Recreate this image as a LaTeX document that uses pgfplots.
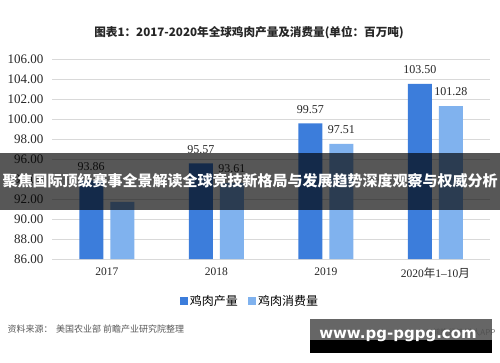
\documentclass[border=0pt]{standalone}
\usepackage{pgfplots}
\pgfplotsset{compat=1.18}
\usepackage{fontspec}
\setmainfont{Liberation Serif}
\newfontfamily\cjk{Noto Sans CJK SC}
\newfontfamily\dvs{DejaVu Sans}
\definecolor{prod}{RGB}{60,125,219}
\definecolor{cons}{RGB}{128,178,238}
\definecolor{gridc}{RGB}{217,217,217}
\begin{document}
\begin{tikzpicture}[x=1pt,y=1pt]
\fill[white] (0,0) rectangle (500,362);
\path[use as bounding box] (0,0) rectangle (500,362);
\node[font={\cjk\bfseries\fontsize{11.6}{13}\selectfont}, text=black!85] at (249,329) {图表1：2017-2020年全球鸡肉产量及消费量(单位：百万吨)};
\begin{axis}[
  at={(52pt,103pt)}, anchor=south west,
  scale only axis, width=438pt, height=200pt,
  ymin=86, ymax=106, ytick={86,88,...,106},
  xmin=-0.5, xmax=3.5,
  xtick=data, xticklabels={2017,2018,2019,{2020{\cjk 年}1–10{\cjk 月}}},
  axis line style={draw=none},
  tick style={draw=none},
  ymajorgrids, grid style={gridc, line width=0.8pt},
  major tick length=0pt,
  yticklabel style={font=\fontsize{13}{14}\selectfont, text=black!85, xshift=-5pt},
  xticklabel style={font=\fontsize{11.5}{13}\selectfont, text=black!85, yshift=-5pt},
  /pgf/number format/assume math mode=true,
  yticklabel={\pgfmathprintnumber[fixed,fixed zerofill,precision=2]{\tick}},
  ybar=7pt, bar width=24pt,
  nodes near coords,
  point meta=explicit symbolic,
  every node near coord/.append style={font=\fontsize{12}{13}\selectfont, text=black!85, yshift=6.5pt},
  legend style={at={(axis description cs:0.5,0)}, anchor=center, xshift=-21pt, yshift=-42pt, draw=none, fill=none, font={\cjk\fontsize{12}{13}\selectfont}, legend columns=2, /tikz/every even column/.append style={column sep=8pt}},
  legend image code/.code={\fill[#1] (0pt,-4pt) rectangle (8pt,4pt);},
]
\addplot[draw=none, fill=prod] coordinates {(0,93.86) [93.86] (1,95.57) [95.57] (2,99.57) [99.57] (3,103.50) [103.50]};
\addplot[draw=none, fill=cons] coordinates {(0,91.72) [] (1,93.61) [93.61] (2,97.51) [97.51] (3,101.28) [101.28]};
\legend{鸡肉产量,鸡肉消费量}
\end{axis}
\node[anchor=west, font={\cjk\fontsize{9}{10}\selectfont}, text=black!65] at (4,33) {资料来源：\, 美国农业部 前瞻产业研究院整理};
% banner overlay
\fill[black, opacity=0.66] (0,152) rectangle (500,209);
\node[font={\cjk\bfseries\fontsize{15}{16}\selectfont}, text=white] at (250,181) {聚焦国际顶级赛事全景解读全球竞技新格局与发展趋势深度观察与权威分析};
% bottom-right overlay
\node[anchor=east, font={\cjk\fontsize{8}{9}\selectfont}, text=black!55] at (499,29) {@前瞻经济学人APP};
\fill[black!70, opacity=0.85] (310,22) rectangle (492,43);
\fill[black] (310,9) rectangle (492,22);
\node[font={\dvs\bfseries\fontsize{15}{16}\selectfont}, text=white] at (398,26) {www.pg-pgpg.com};
\end{tikzpicture}
\end{document}
